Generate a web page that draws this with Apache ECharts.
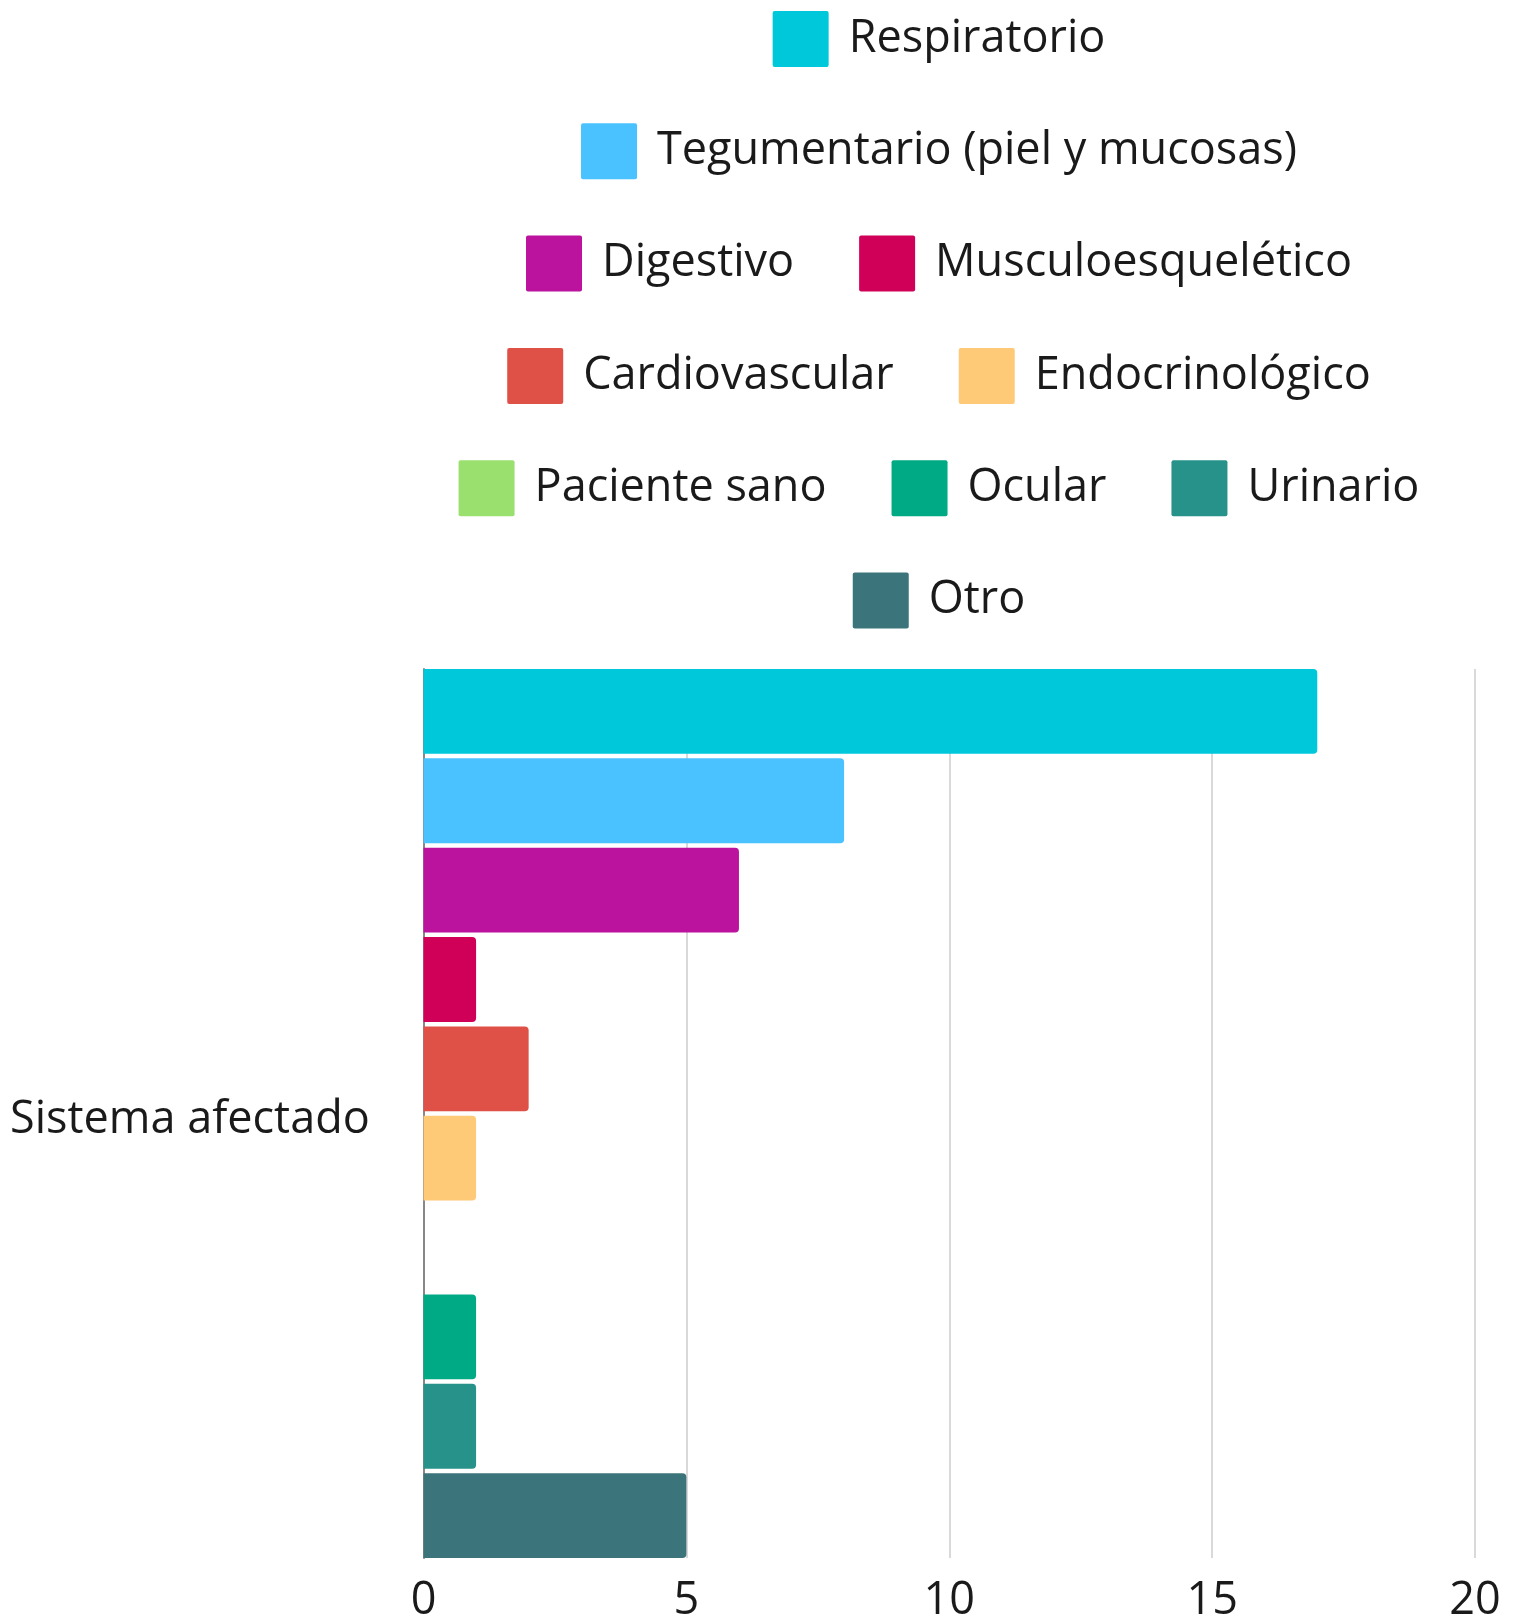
<!DOCTYPE html><html><head><meta charset="utf-8"><script src="https://cdn.jsdelivr.net/npm/echarts@6/dist/echarts.min.js"></script></head><body style="margin:0;background:#fff"><div id="c" style="width:1517px;height:1624px"></div><script>
// ---- data ----
const categories = ['Sistema afectado'];
const seriesNames = ['Respiratorio','Tegumentario (piel y mucosas)','Digestivo','Musculoesquelético','Cardiovascular','Endocrinológico','Paciente sano','Ocular','Urinario','Otro'];
const seriesValues = [17, 8, 6, 1, 2, 1, 0, 1, 1, 5];
const seriesColors = ['#00C8DB','#4AC2FF','#BB139D','#D00058','#DF5146','#FFCA78','#9AE06F','#00AA84','#26928A','#3B757B'];
const legendRows = [[0],[1],[2,3],[4,5],[6,7,8],[9]];
const xTicks = {min: 0, max: 20, interval: 5};

// ---- style / layout ----
const FONT = 'Open Sans';
const FS = 45;
const gridLeft = 423.5, gridRight = 42, gridTop = 669, gridBottom = 65.5;
const iconSize = 56, textPad = 15, itemGap = 65;
const legendCenterX = 939, legendFirstCenterY = 39, legendRowStep = 112.3;

const ctx = document.createElement('canvas').getContext('2d');
ctx.font = FS + 'px "' + FONT + '"';
const iconPath = 'path://M2,0 H54 Q56,0 56,2 V54 Q56,56 54,56 H2 Q0,56 0,54 V2 Q0,0 2,0 Z';

const legends = legendRows.map((row, i) => {
  let w = 0;
  row.forEach((idx, k) => {
    w += iconSize + 5 + textPad + ctx.measureText(seriesNames[idx]).width;
    if (k > 0) w += itemGap;
  });
  return {
    data: row.map(idx => ({name: seriesNames[idx], icon: iconPath})),
    left: legendCenterX - w / 2,
    top: legendFirstCenterY + legendRowStep * i - iconSize / 2,
    orient: 'horizontal',
    padding: 0,
    itemWidth: iconSize,
    itemHeight: iconSize,
    itemGap: itemGap,
    textStyle: {fontFamily: FONT, fontSize: FS, color: '#1a1a1a', padding: [3, 0, 0, textPad]}
  };
});

const series = seriesNames.map((name, i) => ({
  name: name,
  type: 'bar',
  data: [seriesValues[i]],
  itemStyle: {color: seriesColors[i], borderRadius: [0, 4, 4, 0]},
  barGap: '5.3%',
  barCategoryGap: '0%'
}));

const chart = echarts.init(document.getElementById('c'));
chart.setOption({
  backgroundColor: '#fff',
  animation: false,
  legend: legends,
  grid: {left: gridLeft, right: gridRight, top: gridTop, bottom: gridBottom, containLabel: false},
  xAxis: {
    type: 'value', min: xTicks.min, max: xTicks.max, interval: xTicks.interval,
    axisLine: {show: false}, axisTick: {show: false},
    splitLine: {show: true, lineStyle: {color: '#cccccc', width: 1.5}},
    axisLabel: {fontFamily: FONT, fontSize: FS, color: '#1a1a1a', margin: 21}
  },
  yAxis: {
    type: 'category', data: categories, inverse: true,
    axisLine: {show: true, lineStyle: {color: '#888', width: 2}},
    axisTick: {show: false},
    axisLabel: {
      align: 'left', margin: gridLeft - 10,
      formatter: '{v|{value}}',
      rich: {v: {fontFamily: FONT, fontSize: FS, color: '#1a1a1a', padding: [14, 0, 0, 0]}}
    }
  },
  series: series
});
</script></body></html>
